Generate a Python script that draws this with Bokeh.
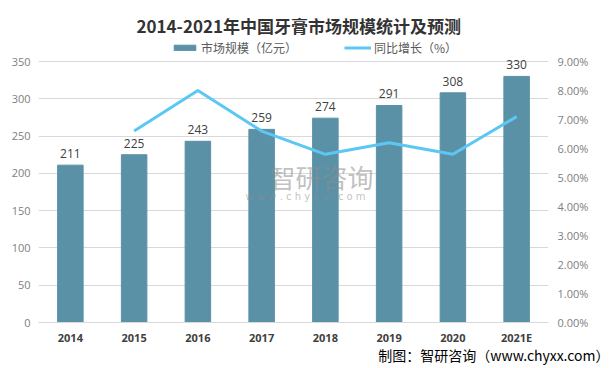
from bokeh.plotting import figure
from bokeh.models import (ColumnDataSource, Range1d, LinearAxis, FixedTicker, NumeralTickFormatter,
                          LabelSet, Label, Legend, LegendItem, Title)
from bokeh.core.properties import value
from bokeh.embed import file_html
from bokeh.resources import INLINE

years = ["2014", "2015", "2016", "2017", "2018", "2019", "2020", "2021E"]
market = [211, 225, 243, 259, 274, 291, 308, 330]
growth_years = ["2015", "2016", "2017", "2018", "2019", "2020", "2021E"]
growth_pct = [6.6, 8.0, 6.6, 5.8, 6.2, 5.8, 7.1]
left_ticks = [0, 50, 100, 150, 200, 250, 300, 350]
right_ticks = [0.00, 0.01, 0.02, 0.03, 0.04, 0.05, 0.06, 0.07, 0.08, 0.09]

title_text = "2014-2021年中国牙膏市场规模统计及预测"
bar_name = "市场规模（亿元）"
line_name = "同比增长（%）"
footer_text = "制图：智研咨询（www.chyxx.com）"

BAR = "#5B91A7"
LINE = "#5BC8F4"
CJK = "Noto Sans CJK SC"

# frame extends 23px above the 350 gridline to hold the legend
left_max = 350
top_extra = 350 + 23 * 350 / 261
pct_extra = 0.09 * top_extra / left_max

xi = list(range(len(years)))
gx = [years.index(y) for y in growth_years]

src = ColumnDataSource(dict(x=xi, v=market, lab=[str(m) for m in market]))
lsrc = ColumnDataSource(dict(x=gx, g=[g / 100 for g in growth_pct]))

p = figure(frame_width=510, frame_height=284, output_backend="svg", toolbar_location=None,
           x_range=Range1d(-0.5, len(years) - 0.5), y_range=Range1d(0, top_extra),
           min_border_left=38, min_border_right=62, min_border_top=38, min_border_bottom=46,
           stylesheets=[":host { outline: 1px solid #a6a6a6; outline-offset: -3px; }"])
p.outline_line_color = None
p.background_fill_color = "white"
p.border_fill_color = "white"

p.title.text = title_text
p.title.align = "left"
p.title.text_font = CJK
p.title.text_font_style = "bold"
p.title.text_font_size = "17px"
p.title.text_color = "#333333"
p.title.offset = 98
p.title.standoff = 1

p.extra_y_ranges = {"pct": Range1d(0, pct_extra)}

bars = p.vbar(x="x", top="v", width=0.4, source=src, color=BAR)
line = p.line(x="x", y="g", source=lsrc, y_range_name="pct", line_color=LINE, line_width=3)

# axes
p.xaxis.ticker = FixedTicker(ticks=xi)
p.xaxis.major_label_overrides = {i: y for i, y in zip(xi, years)}
p.xaxis.major_label_text_font = "Open Sans"
p.xaxis.major_label_text_font_style = "bold"
p.xaxis.major_label_text_font_size = "11px"
p.xaxis.major_label_text_color = "#404040"
p.xaxis.axis_line_color = "#d9d9d9"
p.xaxis.major_tick_line_color = None
p.xaxis.minor_tick_line_color = None
p.xaxis.major_tick_out = 0
p.xaxis.major_tick_in = 0
p.xaxis.minor_tick_out = 0
p.xaxis.minor_tick_in = 0
p.xaxis.major_label_standoff = 7

p.yaxis.ticker = FixedTicker(ticks=left_ticks)
p.yaxis.axis_line_color = None
p.yaxis.major_tick_line_color = None
p.yaxis.minor_tick_line_color = None
p.yaxis.major_tick_out = 0
p.yaxis.major_tick_in = 0
p.yaxis.minor_tick_out = 0
p.yaxis.minor_tick_in = 0
p.yaxis.major_label_text_font = "Open Sans"
p.yaxis.major_label_text_font_size = "11px"
p.yaxis.major_label_text_color = "#808080"
p.yaxis.major_label_standoff = 8

raxis = LinearAxis(y_range_name="pct", ticker=FixedTicker(ticks=right_ticks),
                   formatter=NumeralTickFormatter(format="0.00%"))
raxis.axis_line_color = None
raxis.major_tick_line_color = None
raxis.minor_tick_line_color = None
raxis.major_tick_out = 0
raxis.major_tick_in = 0
raxis.minor_tick_out = 0
raxis.minor_tick_in = 0
raxis.major_label_text_font = "Open Sans"
raxis.major_label_text_font_size = "11px"
raxis.major_label_text_color = "#808080"
raxis.major_label_standoff = 9
p.add_layout(raxis, "right")

p.xgrid.grid_line_color = None
p.ygrid.grid_line_color = "#d9d9d9"
p.ygrid.ticker = FixedTicker(ticks=left_ticks)

# watermark
p.add_layout(Label(x=3.94, y=196, text="智研咨询", text_font=CJK, text_font_size="26px",
                   text_color="#8c8c8c", text_alpha=0.55, text_align="center", text_baseline="middle"))
p.add_layout(Label(x=3.69, y=169, text="w w w . c h y x x . c o m", text_font="DejaVu Sans",
                   text_font_size="10px", text_color="#8c8c8c", text_alpha=0.55,
                   text_align="center", text_baseline="middle"))

# data labels
p.add_layout(LabelSet(x="x", y="v", text="lab", source=src, y_offset=7, text_align="center",
                      text_baseline="bottom", text_font=value("Open Sans"), text_font_size="12px",
                      text_color="#404040"))

# legend inside the extended frame
legend = Legend(items=[LegendItem(label=bar_name, renderers=[bars]),
                       LegendItem(label=line_name, renderers=[line])],
                orientation="horizontal", location=(133, 266), padding=0, margin=0,
                spacing=47, label_standoff=3, glyph_width=27, glyph_height=7,
                label_text_font=CJK, label_text_font_size="12px", label_text_color="#595959",
                border_line_color=None, background_fill_alpha=0)
p.add_layout(legend, "center")

# footer
footer = Title(text=footer_text, align="right", text_font=CJK, text_font_size="14px",
               text_color="#000000", text_font_style="normal", offset=-61, standoff=-9)
p.add_layout(footer, "below")

open("out.html", "w").write(file_html(p, INLINE))
